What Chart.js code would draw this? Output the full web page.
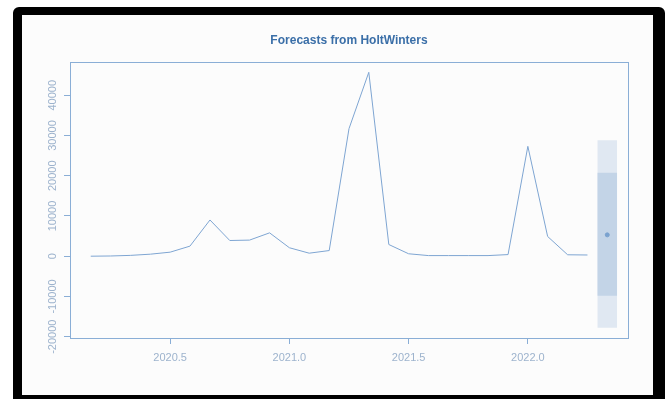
<!DOCTYPE html>
<html>
<head>
<meta charset="utf-8">
<script src="https://cdn.jsdelivr.net/npm/chart.js@4.4.1/dist/chart.umd.min.js"></script>
<style>
  html, body { margin: 0; padding: 0; background: #ffffff; }
  body { width: 665px; height: 399px; position: relative; overflow: hidden; }
  #frame {
    position: absolute; left: 13px; top: 7px; width: 652px; height: 400px;
    border-style: solid; border-color: #000;
    border-width: 8px 12px 12px 9px;
    border-radius: 6px;
    background: #fcfcfc;
    box-sizing: border-box;
  }
  #wrap { position: absolute; left: 0; top: 0; width: 665px; height: 399px; }
</style>
</head>
<body>
<div id="frame"></div>
<div id="wrap"><canvas id="chart" width="665" height="399"></canvas></div>
<script>
// Datos mensuales (marzo 2020 - abril 2022)
const meses = [
  2020.167, 2020.250, 2020.333, 2020.417, 2020.500, 2020.583, 2020.667, 2020.750, 2020.833, 2020.917,
  2021.000, 2021.083, 2021.167, 2021.250, 2021.333, 2021.417, 2021.500, 2021.583, 2021.667, 2021.750,
  2021.833, 2021.917, 2022.000, 2022.083, 2022.167, 2022.250
];
const valores = [
  0, 50, 200, 500, 1000, 2500, 9000, 3900, 4000, 5800,
  2100, 750, 1400, 31700, 45700, 2900, 600, 150, 150, 150,
  150, 400, 27300, 4900, 350, 300
];

// Pronóstico (h = 1)
const fechaPronostico = 2022.333;
const mediaPronostico = 5300;
const inferior80 = -9800;
const superior80 = 20750;
const inferior95 = -17800;
const superior95 = 28800;

const xTicks = [2020.5, 2021.0, 2021.5, 2022.0];
const yTicks = [-20000, -10000, 0, 10000, 20000, 30000, 40000];

const colorLinea = '#7ea5d2';
const colorEje = '#8aaed6';
const colorTexto = '#9db3cd';
const media = 1 / 24;

// Caja alrededor del gráfico y etiquetas verticales del eje y
const cajaPlugin = {
  id: 'caja',
  afterDraw(chart) {
    const ctx = chart.ctx;
    const a = chart.chartArea;
    ctx.save();
    ctx.strokeStyle = colorEje;
    ctx.lineWidth = 1;
    ctx.strokeRect(Math.round(a.left) + 0.5, Math.round(a.top) + 0.5,
      Math.round(a.right - a.left), Math.round(a.bottom - a.top));
    const y = chart.scales.y;
    ctx.fillStyle = colorTexto;
    ctx.font = '11px "Liberation Sans", Arial, sans-serif';
    ctx.textAlign = 'center';
    ctx.textBaseline = 'middle';
    yTicks.forEach(v => {
      ctx.save();
      ctx.translate(53, y.getPixelForValue(v));
      ctx.rotate(-Math.PI / 2);
      ctx.fillText(String(v), 0, 0);
      ctx.restore();
    });
    ctx.restore();
  }
};

const ctx = document.getElementById('chart').getContext('2d');
new Chart(ctx, {
  type: 'line',
  data: {
    datasets: [
      {
        label: 'historia',
        data: meses.map((m, i) => ({ x: m, y: valores[i] })),
        borderColor: colorLinea,
        borderWidth: 1,
        pointRadius: 0,
        tension: 0,
        fill: false,
        order: 0
      },
      {
        label: 'pronostico',
        data: [{ x: fechaPronostico, y: mediaPronostico }],
        borderColor: '#7aa2cf',
        backgroundColor: '#7aa2cf',
        pointRadius: 2,
        showLine: false,
        order: 1
      },
      {
        label: 'sup80',
        data: [{ x: fechaPronostico - media, y: superior80 }, { x: fechaPronostico + media, y: superior80 }],
        borderWidth: 0,
        pointRadius: 0,
        backgroundColor: '#c3d4e7',
        fill: '+1',
        order: 2
      },
      {
        label: 'inf80',
        data: [{ x: fechaPronostico - media, y: inferior80 }, { x: fechaPronostico + media, y: inferior80 }],
        borderWidth: 0,
        pointRadius: 0,
        fill: false,
        order: 2
      },
      {
        label: 'sup95',
        data: [{ x: fechaPronostico - media, y: superior95 }, { x: fechaPronostico + media, y: superior95 }],
        borderWidth: 0,
        pointRadius: 0,
        backgroundColor: '#e0e8f2',
        fill: '+1',
        order: 3
      },
      {
        label: 'inf95',
        data: [{ x: fechaPronostico - media, y: inferior95 }, { x: fechaPronostico + media, y: inferior95 }],
        borderWidth: 0,
        pointRadius: 0,
        fill: false,
        order: 3
      }
    ]
  },
  options: {
    responsive: false,
    animation: false,
    events: [],
    layout: { padding: { left: 70, right: 37, top: 0, bottom: 20 } },
    plugins: {
      legend: { display: false },
      tooltip: { enabled: false },
      title: {
        display: true,
        text: 'Forecasts from HoltWinters',
        color: '#3b6fa8',
        font: { family: '"Liberation Sans", Arial, sans-serif', size: 12, weight: 'bold' },
        padding: { top: 33, bottom: 14.6 }
      }
    },
    scales: {
      x: {
        type: 'linear',
        min: 2020.08,
        max: 2022.42,
        afterBuildTicks: s => { s.ticks = xTicks.map(v => ({ value: v })); },
        afterFit: s => { s.height = 41; },
        ticks: {
          color: colorTexto,
          font: { family: '"Liberation Sans", Arial, sans-serif', size: 11 },
          padding: 7,
          maxRotation: 0,
          callback: v => Number(v).toFixed(1)
        },
        grid: { display: true, drawOnChartArea: false, drawTicks: true, tickLength: 6, color: colorEje },
        border: { display: true, color: colorEje }
      },
      y: {
        type: 'linear',
        min: -20330,
        max: 48260,
        afterBuildTicks: s => { s.ticks = yTicks.map(v => ({ value: v })); },
        afterFit: s => { s.width = 0; },
        ticks: { display: false },
        grid: { display: true, drawOnChartArea: false, drawTicks: true, tickLength: 6, color: colorEje },
        border: { display: true, color: colorEje }
      }
    }
  },
  plugins: [cajaPlugin]
});
</script>
</body>
</html>
